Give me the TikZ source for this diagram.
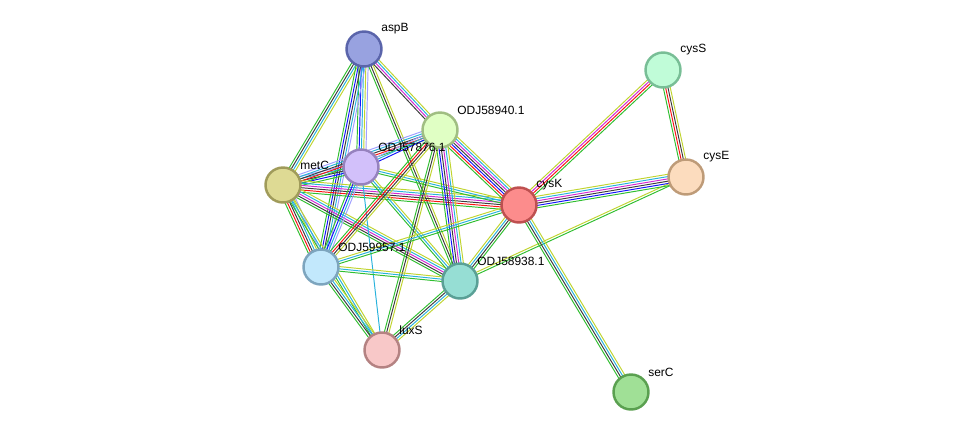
\documentclass[tikz,border=0pt]{standalone}
\usepackage{fontspec}
\setmainfont{Liberation Sans}
\usetikzlibrary{calc,backgrounds}

\definecolor{evG}{RGB}{48,190,48}
\definecolor{evR}{RGB}{250,20,20}
\definecolor{evB}{RGB}{20,20,250}
\definecolor{evK}{RGB}{60,60,60}
\definecolor{evM}{RGB}{210,40,210}
\definecolor{evC}{RGB}{40,178,220}
\definecolor{evY}{RGB}{192,212,48}
\definecolor{evL}{RGB}{160,160,255}

% one bundle of parallel evidence lines between two nodes
\newcommand\evid[3]{%
	\foreach \col [count=\i] in {#3} {\xdef\nlines{\i}}%
	\foreach \col [count=\i] in {#3} {%
		\pgfmathsetmacro\off{(\i-(\nlines+1)/2)*1.3}%
		\draw[evline,color=ev\col] ($(#1)!\off pt!90:(#2)$) -- ($(#2)!\off pt!-90:(#1)$);
	}%
}

\begin{document}
\begin{tikzpicture}[x=0.02cm,y=-0.02cm,
	prot/.style={circle, draw, line width=1.4pt, minimum size=0.7cm, inner sep=0pt},
	lbl/.style={anchor=west, inner sep=0pt, font=\fontsize{6.8}{8}\selectfont},
	evline/.style={line width=0.55pt}]
	\useasboundingbox (0,0) rectangle (976,437);
	%% ========================================================
	\node[prot, fill={rgb,255:red,152;green,162;blue,224}, draw={rgb,255:red,90;green,100;blue,170}] (aspB) at (364,49) {};
	\node[prot, fill={rgb,255:red,224;green,255;blue,196}, draw={rgb,255:red,160;green,190;blue,130}] (odj40) at (440,130) {};
	\node[prot, fill={rgb,255:red,210;green,192;blue,250}, draw={rgb,255:red,150;green,130;blue,190}] (odj76) at (361,167) {};
	\node[prot, fill={rgb,255:red,222;green,218;blue,148}, draw={rgb,255:red,160;green,155;blue,90}] (metC) at (283,185) {};
	\node[prot, fill={rgb,255:red,252;green,140;blue,140}, draw={rgb,255:red,190;green,80;blue,80}] (cysK) at (519,205) {};
	\node[prot, fill={rgb,255:red,192;green,252;blue,216}, draw={rgb,255:red,120;green,190;blue,150}] (cysS) at (663,70) {};
	\node[prot, fill={rgb,255:red,252;green,220;blue,190}, draw={rgb,255:red,190;green,155;blue,120}] (cysE) at (686,177) {};
	\node[prot, fill={rgb,255:red,194;green,232;blue,252}, draw={rgb,255:red,125;green,165;blue,190}] (odj57) at (321,267) {};
	\node[prot, fill={rgb,255:red,150;green,222;blue,212}, draw={rgb,255:red,90;green,160;blue,150}] (odj38) at (460,281) {};
	\node[prot, fill={rgb,255:red,248;green,200;blue,200}, draw={rgb,255:red,180;green,130;blue,130}] (luxS) at (382,350) {};
	\node[prot, fill={rgb,255:red,160;green,224;blue,150}, draw={rgb,255:red,90;green,160;blue,80}] (serC) at (631,392) {};

	\node[lbl] (aspB-t) at ([shift={(17,-20)}]aspB) {aspB};
	\node[lbl] (odj40-t) at ([shift={(17,-20)}]odj40) {ODJ58940.1};
	\node[lbl] (odj76-t) at ([shift={(17,-20)}]odj76) {ODJ57876.1};
	\node[lbl] (metC-t) at ([shift={(17,-20)}]metC) {metC};
	\node[lbl] (cysK-t) at ([shift={(17,-20)}]cysK) {cysK};
	\node[lbl] (cysS-t) at ([shift={(17,-20)}]cysS) {cysS};
	\node[lbl] (cysE-t) at ([shift={(17,-20)}]cysE) {cysE};
	\node[lbl] (odj57-t) at ([shift={(17,-20)}]odj57) {ODJ59957.1};
	\node[lbl] (odj38-t) at ([shift={(17,-20)}]odj38) {ODJ58938.1};
	\node[lbl] (luxS-t) at ([shift={(17,-20)}]luxS) {luxS};
	\node[lbl] (serC-t) at ([shift={(17,-20)}]serC) {serC};
	%% ========================================================
	\begin{pgfonlayer}{background}
		\evid{aspB}{odj40}{K,M,C,Y}
		\evid{aspB}{metC}{G,K,C,Y}
		\evid{aspB}{odj76}{G,B,C,Y,L}
		\evid{aspB}{odj57}{G,B,K,C,L}
		\evid{aspB}{odj38}{G,K,Y}
		\evid{metC}{odj76}{G,B,K,C,L}
		\evid{metC}{odj40}{G,R,K,C,L}
		\evid{metC}{cysK}{G,R,K,M,C,Y}
		\evid{metC}{odj57}{G,R,K,C,Y,L}
		\evid{metC}{odj38}{G,K,M,C,Y}
		\evid{metC}{luxS}{G,C,Y}
		\evid{odj76}{odj40}{B,C,L}
		\evid{odj76}{cysK}{G,C,Y}
		\evid{odj76}{odj57}{G,B,C,L}
		\evid{odj76}{odj38}{G,C,Y}
		\evid{odj76}{luxS}{C}
		\evid{odj40}{cysK}{G,R,B,K,M,C,Y}
		\evid{odj40}{odj57}{G,R,K,Y}
		\evid{odj40}{odj38}{G,B,K,M,C,Y}
		\evid{odj40}{luxS}{G,K,Y}
		\evid{odj57}{cysK}{G,C,Y}
		\evid{odj57}{odj38}{G,C,Y}
		\evid{odj57}{luxS}{G,K,C,Y}
		\evid{odj38}{cysK}{G,K,C,Y}
		\evid{odj38}{luxS}{G,K,C,Y}
		\evid{odj38}{cysE}{G,Y}
		\evid{cysK}{cysS}{G,R,M,Y}
		\evid{cysK}{cysE}{G,B,K,M,C,Y}
		\evid{cysK}{serC}{G,K,C,Y}
		\evid{cysS}{cysE}{G,R,K,Y}
	\end{pgfonlayer}
	%% ========================================================
\end{tikzpicture}
\end{document}
